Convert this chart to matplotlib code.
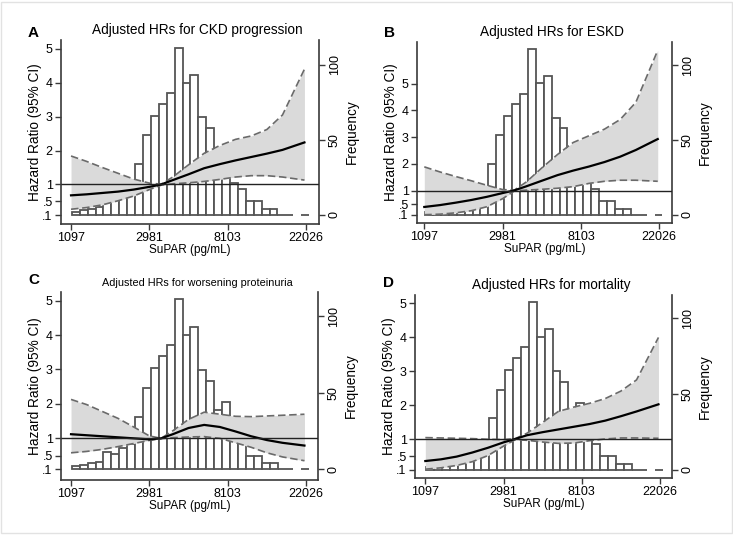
import matplotlib.pyplot as plt
from matplotlib.patches import Rectangle

plt.rcParams['font.family'] = ['Liberation Sans', 'DejaVu Sans']

W, H = 733, 535

ln_supar = [7.0, 7.2, 7.4, 7.6, 7.8, 8.0, 8.15, 8.3, 8.5, 8.7, 8.9, 9.1, 9.3, 9.5, 9.7, 9.98]

# histogram of ln(suPAR) (same cohort in every panel), None = no bar
bin_start = 7.01
bin_width = 0.101
freq = [2, 3, 4, 5, 11, 10, 14, 16.5, 34, 53, 66, 74, 81, 111, 88, 93,
        65, 58, 39, 44, 21, 17, 9, 9, 4, 4, 0, 0, None, 0]

# A - CKD progression
ckd_est = [0.68, 0.71, 0.75, 0.79, 0.85, 0.93, 1.00, 1.13, 1.30, 1.48, 1.60, 1.71, 1.81, 1.91, 2.02, 2.24]
ckd_lo = [0.27, 0.32, 0.40, 0.52, 0.66, 0.85, 0.98, 1.02, 1.05, 1.09, 1.15, 1.22, 1.26, 1.26, 1.22, 1.13]
ckd_hi = [1.84, 1.68, 1.50, 1.33, 1.16, 1.04, 1.01, 1.22, 1.58, 1.92, 2.15, 2.33, 2.43, 2.62, 3.05, 4.40]

# B - ESKD
eskd_est = [0.39, 0.46, 0.55, 0.65, 0.77, 0.91, 1.01, 1.16, 1.37, 1.58, 1.75, 1.90, 2.07, 2.27, 2.52, 2.93]
eskd_lo = [0.10, 0.12, 0.17, 0.25, 0.40, 0.70, 0.99, 1.02, 1.05, 1.09, 1.15, 1.27, 1.35, 1.39, 1.39, 1.35]
eskd_hi = [1.89, 1.70, 1.53, 1.37, 1.20, 1.04, 1.02, 1.32, 1.85, 2.35, 2.80, 3.05, 3.30, 3.66, 4.30, 6.25]

# C - worsening proteinuria
prot_est = [1.12, 1.09, 1.06, 1.03, 1.00, 0.97, 1.00, 1.12, 1.30, 1.39, 1.33, 1.20, 1.06, 0.95, 0.87, 0.79]
prot_lo = [0.58, 0.62, 0.68, 0.76, 0.85, 0.94, 0.99, 1.02, 1.04, 1.05, 1.00, 0.87, 0.74, 0.58, 0.46, 0.35]
prot_hi = [2.13, 1.98, 1.78, 1.58, 1.33, 1.07, 1.00, 1.22, 1.55, 1.76, 1.70, 1.64, 1.63, 1.65, 1.67, 1.70]

# D - mortality
mort_est = [0.36, 0.41, 0.49, 0.61, 0.75, 0.91, 1.01, 1.12, 1.21, 1.29, 1.37, 1.45, 1.55, 1.68, 1.82, 2.03]
mort_lo = [0.12, 0.16, 0.23, 0.34, 0.52, 0.80, 0.99, 0.97, 0.92, 0.88, 0.89, 0.96, 1.01, 1.04, 1.04, 1.03]
mort_hi = [1.05, 1.04, 1.03, 1.02, 1.00, 0.99, 1.02, 1.18, 1.50, 1.82, 1.95, 2.06, 2.20, 2.42, 2.75, 4.00]

xticks = [7, 8, 9, 10]
xticklabels = ['1097', '2981', '8103', '22026']
hr_ticks = [0.1, 0.5, 1, 2, 3, 4, 5]
hr_ticklabels = ['.1', '.5', '1', '2', '3', '4', '5']
freq_ticks = [0, 50, 100]

panels = [
    dict(letter='A', title='Adjusted HRs for CKD progression', tsize=9.8, box=(61, 40, 319, 224),
         xlim=(6.872, 10.166), ylim=(-0.165, 5.26), flim=(-6.0, 116.6),
         est=ckd_est, lo=ckd_lo, hi=ckd_hi, lpos=(28, 33)),
    dict(letter='B', title='Adjusted HRs for ESKD', tsize=9.8, box=(417, 42, 672, 223),
         xlim=(6.907, 10.162), ylim=(-0.21, 6.56), flim=(-5.6, 115.6),
         est=eskd_est, lo=eskd_lo, hi=eskd_hi, lpos=(384, 33)),
    dict(letter='C', title='Adjusted HRs for worsening proteinuria', tsize=7.8, box=(61, 292, 318, 480),
         xlim=(6.872, 10.153), ylim=(-0.21, 5.25), flim=(-7.0, 115.9),
         est=prot_est, lo=prot_lo, hi=prot_hi, lpos=(28, 280)),
    dict(letter='D', title='Adjusted HRs for mortality', tsize=9.8, box=(415, 295, 672, 478),
         xlim=(6.868, 10.153), ylim=(-0.14, 5.25), flim=(-5.4, 115.4),
         est=mort_est, lo=mort_lo, hi=mort_hi, lpos=(383, 283)),
]

fig = plt.figure(figsize=(W / 100, H / 100), dpi=100)
fig.patches.append(Rectangle((0.002, 0.004), 0.996, 0.992, transform=fig.transFigure,
                             fill=False, edgecolor='#e2e2e2', linewidth=1.0))

spine_col = '#3a3a3a'
bar_edges = [bin_start + i * bin_width for i in range(len(freq))]

for p in panels:
    l, t, r, b = p['box']
    ax = fig.add_axes([l / W, 1 - b / H, (r - l) / W, (b - t) / H])
    ax2 = ax.twinx()
    ax.set_zorder(ax2.get_zorder() + 1)
    ax.patch.set_visible(False)

    # histogram (behind the CI band)
    xs = [e for e, f in zip(bar_edges, freq) if f is not None]
    hs = [f for f in freq if f is not None]
    ax2.bar(xs, hs, width=bin_width, align='edge', color='white',
            edgecolor='#555555', linewidth=1.3)

    ax.fill_between(ln_supar, p['lo'], p['hi'], color='#dadada', linewidth=0)
    ax.plot(ln_supar, p['lo'], color='#6a6a6a', linewidth=1.2, dashes=(4.5, 2.2))
    ax.plot(ln_supar, p['hi'], color='#6a6a6a', linewidth=1.2, dashes=(4.5, 2.2))
    ax.plot(ln_supar, p['est'], color='black', linewidth=1.6)
    ax.axhline(1, color='#222222', linewidth=1.0)

    ax.set_xlim(*p['xlim'])
    ax.set_ylim(*p['ylim'])
    ax2.set_ylim(*p['flim'])

    for s in ['top', 'right']:
        ax.spines[s].set_visible(False)
    for s in ['top', 'left', 'bottom']:
        ax2.spines[s].set_visible(False)
    for s in [ax.spines['left'], ax.spines['bottom'], ax2.spines['right']]:
        s.set_color(spine_col)
        s.set_linewidth(1.2)

    ax.set_xticks(xticks)
    ax.set_xticklabels(xticklabels)
    ax.set_yticks(hr_ticks)
    ax.set_yticklabels(hr_ticklabels)
    ax.tick_params(axis='both', labelsize=9, length=4, width=1.0, color=spine_col, pad=2)
    ax2.set_yticks(freq_ticks)
    ax2.tick_params(axis='y', labelsize=9, length=4, width=1.0, color=spine_col, pad=3)
    plt.setp(ax2.get_yticklabels(), rotation=90, va='center', ha='left')

    ax.set_ylabel('Hazard Ratio (95% CI)', fontsize=9.8, labelpad=0.5)
    ax2.set_ylabel('Frequency', fontsize=9.8, labelpad=3)
    ax.set_xlabel('SuPAR (pg/mL)', fontsize=8.5, labelpad=0)

    ax.set_title(p['title'], fontsize=p['tsize'], pad=4, x=0.53)
    fig.text(p['lpos'][0] / W, 1 - p['lpos'][1] / H, p['letter'], fontsize=11,
             fontweight='bold', ha='left', va='center')

fig.savefig('out.png', dpi=100, facecolor='white')
